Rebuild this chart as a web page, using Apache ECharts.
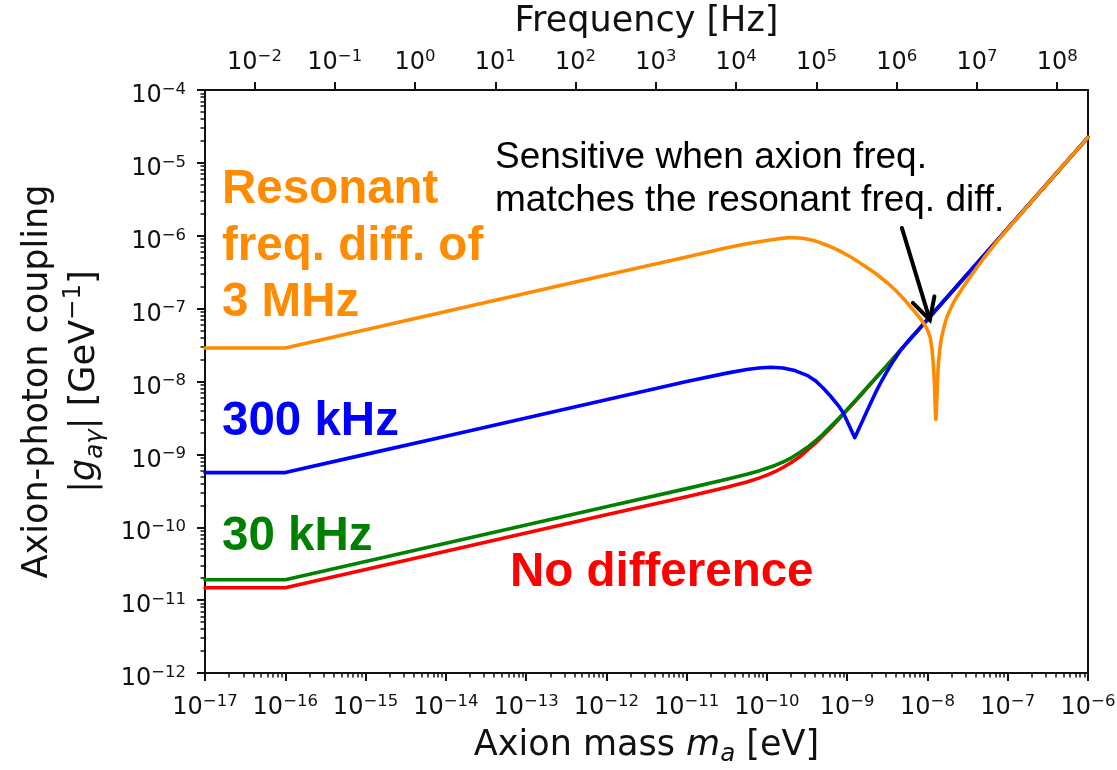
<!DOCTYPE html>
<html>
<head>
<meta charset="utf-8">
<script src="https://cdn.jsdelivr.net/npm/echarts@6/dist/echarts.min.js"></script>
<style>
  html, body { margin: 0; padding: 0; background: #ffffff; }
  #main { width: 1117px; height: 770px; }
</style>
</head>
<body>
<div id="main"></div>
<script>
// Planck constant in eV·s: frequency = mass / h for the top axis
const PLANCK_EV_S = 4.135667696e-15;

// Axis ranges and decade tick exponents
const massRange = [1e-17, 1e-6];
const couplingRange = [1e-12, 1e-4];
const massDecades = [-17, -16, -15, -14, -13, -12, -11, -10, -9, -8, -7, -6];
const couplingDecades = [-12, -11, -10, -9, -8, -7, -6, -5, -4];
const freqDecades = [-2, -1, 0, 1, 2, 3, 4, 5, 6, 7, 8];

// Sensitivity curves, stored as log10(mass / eV) and log10(|g| / GeV^-1)
const noDiffLogMass = [-17, -16, -15, -14, -13, -12, -11, -10.5, -10.25, -10.1, -10, -9.9, -9.8, -9.7, -9.6, -9.5, -9.4, -9.3, -9.2, -9.1, -9.0, -8.9, -8.8, -8.65, -8.5, -8, -7.5, -7, -6.5, -6];
const noDiffLogG    = [-10.83, -10.83, -10.58, -10.33, -10.08, -9.83, -9.58, -9.45, -9.38, -9.326, -9.285, -9.238, -9.18, -9.114, -9.04, -8.946, -8.85, -8.74, -8.63, -8.51, -8.39, -8.27, -8.15, -7.96, -7.775, -7.15, -6.525, -5.90, -5.275, -4.65];

const khz30LogMass = [-17, -16, -15, -14, -13, -12, -11, -10.5, -10.25, -10.1, -10, -9.9, -9.8, -9.7, -9.6, -9.5, -9.4, -9.3, -9.2, -9.1, -9.0, -8.9, -8.8, -8.65, -8.5, -8, -7.5, -7, -6.5, -6];
const khz30LogG    = [-10.72, -10.72, -10.47, -10.22, -9.97, -9.72, -9.47, -9.342, -9.273, -9.227, -9.19, -9.152, -9.105, -9.05, -8.98, -8.907, -8.82, -8.72, -8.61, -8.50, -8.385, -8.265, -8.14, -7.96, -7.775, -7.15, -6.525, -5.90, -5.275, -4.65];

const khz300LogMass = [-17, -16, -15, -14, -13, -12, -11, -10.5, -10.25, -10.1, -9.95, -9.8, -9.65, -9.5, -9.4, -9.3, -9.2, -9.1, -9.05, -9.0, -8.95, -8.905, -8.87, -8.83, -8.78, -8.72, -8.65, -8.57, -8.5, -8.42, -8.33, -8.24, -8.12, -8.0, -7.5, -7, -6.5, -6];
const khz300LogG    = [-9.25, -9.25, -9.00, -8.75, -8.50, -8.25, -8.00, -7.885, -7.835, -7.815, -7.805, -7.815, -7.85, -7.915, -7.985, -8.09, -8.21, -8.345, -8.43, -8.545, -8.665, -8.77, -8.685, -8.59, -8.47, -8.325, -8.16, -7.99, -7.855, -7.71, -7.565, -7.445, -7.30, -7.15, -6.525, -5.90, -5.275, -4.65];

const mhz3LogMass = [-17, -16, -15, -14, -13, -12, -11, -10.5, -10.25, -10.0, -9.85, -9.7, -9.55, -9.4, -9.25, -9.1, -8.95, -8.8, -8.65, -8.5, -8.4, -8.3, -8.2, -8.13, -8.07, -8.02, -7.99, -7.965, -7.945, -7.93, -7.922, -7.913, -7.907, -7.901, -7.895, -7.889, -7.883, -7.877, -7.868, -7.86, -7.845, -7.825, -7.80, -7.76, -7.70, -7.64, -7.55, -7.47, -7.39, -7.31, -7.15, -7.0, -6.5, -6];
const mhz3LogG    = [-7.54, -7.54, -7.29, -7.04, -6.79, -6.54, -6.29, -6.165, -6.11, -6.065, -6.04, -6.025, -6.035, -6.07, -6.13, -6.205, -6.295, -6.40, -6.515, -6.645, -6.745, -6.86, -6.99, -7.08, -7.165, -7.25, -7.32, -7.40, -7.545, -7.716, -7.84, -8.03, -8.23, -8.42, -8.52, -8.42, -8.23, -8.03, -7.84, -7.716, -7.545, -7.40, -7.28, -7.12, -6.97, -6.85, -6.695, -6.57, -6.447, -6.325, -6.10, -5.905, -5.275, -4.65];

// Arrow pointing at the resonance crossing: [mass, coupling] of tail and tip
const arrowTail = [4.8e-9, 1.28e-6];
const arrowTip = [1.07e-8, 7.0e-8];

const COLORS = { red: '#ff0000', green: '#008000', blue: '#0000ff', orange: '#ff8c00' };
const AXIS_FONT = 'DejaVu Sans';
const NOTE_FONT = 'Liberation Sans, Arial, sans-serif';

function pow10(e) { return Number('1e' + e); }
function toPairs(logX, logY) { return logX.map((lx, i) => [Math.pow(10, lx), Math.pow(10, logY[i])]); }
function minorValues(exps) {
  const out = [];
  for (let i = 0; i < exps.length - 1; i++) {
    for (let k = 2; k <= 9; k++) out.push(Number(k + 'e' + exps[i]));
  }
  return out;
}
function decadeLabel(v) {
  const e = Math.round(Math.log10(v));
  const txt = e < 0 ? '\u2212' + (-e) : String(e);
  return '{b|10}{s|' + txt + '}';
}

const tickRich = {
  b: { fontFamily: AXIS_FONT, fontSize: 24, lineHeight: 30, color: '#111' },
  s: { fontFamily: AXIS_FONT, fontSize: 16.5, lineHeight: 16, verticalAlign: 'top', color: '#111' }
};

const spine = { show: true, lineStyle: { color: '#111', width: 2 } };
const majorTick = (vals) => ({ show: true, inside: false, length: 8, customValues: vals, lineStyle: { color: '#111', width: 2 } });
const minorTick = (vals) => ({ show: true, inside: false, length: 4.5, customValues: vals, lineStyle: { color: '#111', width: 1.5 } });

const chart = echarts.init(document.getElementById('main'), null, { renderer: 'canvas' });

const option = {
  animation: false,
  backgroundColor: '#ffffff',
  grid: { left: 205, right: 29, top: 90, bottom: 97, containLabel: false, outerBoundsMode: 'none' },
  xAxis: [
    {
      type: 'log', logBase: 10, min: massRange[0], max: massRange[1], position: 'bottom',
      axisLine: spine,
      axisTick: majorTick(massDecades.map(pow10)),
      axisLabel: { customValues: massDecades.map(pow10), formatter: decadeLabel, rich: tickRich, margin: 20 },
      splitLine: { show: false },
      name: 'Axion mass {i|m}{sub|a} [eV]',
      nameLocation: 'middle', nameGap: 50,
      nameTextStyle: {
        fontFamily: AXIS_FONT, fontSize: 35, lineHeight: 42, color: '#111',
        rich: {
          i: { fontFamily: AXIS_FONT, fontStyle: 'italic', fontSize: 35, lineHeight: 42, color: '#111' },
          sub: { fontFamily: AXIS_FONT, fontStyle: 'italic', fontSize: 24.5, lineHeight: 21, verticalAlign: 'bottom', color: '#111' }
        }
      }
    },
    {
      type: 'log', logBase: 10, min: massRange[0], max: massRange[1], position: 'bottom',
      axisLine: { show: false },
      axisTick: minorTick(minorValues(massDecades)),
      axisLabel: { show: false },
      splitLine: { show: false }
    },
    {
      type: 'log', logBase: 10, min: massRange[0] / PLANCK_EV_S, max: massRange[1] / PLANCK_EV_S, position: 'top',
      axisLine: spine,
      axisTick: majorTick(freqDecades.map(pow10)),
      axisLabel: { customValues: freqDecades.map(pow10), formatter: decadeLabel, rich: tickRich, margin: 12 },
      splitLine: { show: false },
      name: 'Frequency [Hz]',
      nameLocation: 'middle', nameGap: 38,
      nameTextStyle: { fontFamily: AXIS_FONT, fontSize: 35, lineHeight: 42, color: '#111' }
    }
  ],
  yAxis: [
    {
      type: 'log', logBase: 10, min: couplingRange[0], max: couplingRange[1], position: 'left',
      axisLine: spine,
      axisTick: majorTick(couplingDecades.map(pow10)),
      axisLabel: { customValues: couplingDecades.map(pow10), formatter: decadeLabel, rich: tickRich, margin: 19, padding: [12, 0, 0, 0] },
      splitLine: { show: false }
    },
    {
      type: 'log', logBase: 10, min: couplingRange[0], max: couplingRange[1], position: 'left',
      axisLine: { show: false },
      axisTick: minorTick(minorValues(couplingDecades)),
      axisLabel: { show: false },
      splitLine: { show: false }
    },
    {
      type: 'log', logBase: 10, min: couplingRange[0], max: couplingRange[1], position: 'right',
      axisLine: spine,
      axisTick: { show: false },
      axisLabel: { show: false },
      splitLine: { show: false }
    }
  ],
  series: [
    { name: 'No difference', data: toPairs(noDiffLogMass, noDiffLogG), color: COLORS.red },
    { name: '30 kHz', data: toPairs(khz30LogMass, khz30LogG), color: COLORS.green },
    { name: '300 kHz', data: toPairs(khz300LogMass, khz300LogG), color: COLORS.blue },
    { name: 'Resonant freq. diff. of 3 MHz', data: toPairs(mhz3LogMass, mhz3LogG), color: COLORS.orange }
  ].map(s => ({
    type: 'line', name: s.name, data: s.data, xAxisIndex: 0, yAxisIndex: 0,
    showSymbol: false, symbol: 'none', silent: true, clip: true,
    lineStyle: { color: s.color, width: 3.6, join: 'round', cap: 'round' }
  }))
};

chart.setOption(option);

// Annotation texts and the arrow
const tail = chart.convertToPixel({ xAxisIndex: 0, yAxisIndex: 0 }, arrowTail);
const tip = chart.convertToPixel({ xAxisIndex: 0, yAxisIndex: 0 }, arrowTip);
const ang = Math.atan2(tail[1] - tip[1], tail[0] - tip[0]);
const wingLen = 24, wingAng = 28 * Math.PI / 180;
const wing1 = [tip[0] + wingLen * Math.cos(ang + wingAng), tip[1] + wingLen * Math.sin(ang + wingAng)];
const wing2 = [tip[0] + wingLen * Math.cos(ang - wingAng), tip[1] + wingLen * Math.sin(ang - wingAng)];

function note(text, x, y, color, size, weight, lineHeight) {
  return {
    type: 'text', x: x, y: y, silent: true, z: 100,
    style: {
      text: text, fill: color, fontFamily: NOTE_FONT, fontSize: size, fontWeight: weight,
      lineHeight: lineHeight || Math.round(size * 1.2), align: 'left', verticalAlign: 'middle'
    }
  };
}

chart.setOption({
  graphic: [
    {
      type: 'text', x: 61, y: 381.5, rotation: Math.PI / 2, silent: true,
      style: {
        text: 'Axion-photon coupling\n|{i|g}{sub|a\u03b3}| [GeV{sup|\u22121}]',
        fill: '#111', fontFamily: AXIS_FONT, fontSize: 35, lineHeight: 47,
        align: 'center', verticalAlign: 'middle',
        rich: {
          i: { fontFamily: AXIS_FONT, fontStyle: 'italic', fontSize: 35, lineHeight: 47, fill: '#111' },
          sub: { fontFamily: AXIS_FONT, fontStyle: 'italic', fontSize: 24.5, lineHeight: 26, verticalAlign: 'bottom', fill: '#111' },
          sup: { fontFamily: AXIS_FONT, fontSize: 24.5, lineHeight: 24, verticalAlign: 'top', fill: '#111' }
        }
      }
    },
    note('Resonant\nfreq. diff. of\n3 MHz', 222, 246.5, COLORS.orange, 47.5, 'bold', 56.5),
    note('300 kHz', 222, 422, COLORS.blue, 47.5, 'bold'),
    note('30 kHz', 222, 537, COLORS.green, 47.5, 'bold'),
    note('No difference', 510, 573, COLORS.red, 47.5, 'bold'),
    note('Sensitive when axion freq.\nmatches the resonant freq. diff.', 495, 179, '#000000', 37, 'normal', 43),
    {
      type: 'polyline', silent: true, z: 101,
      shape: { points: [tail, tip] },
      style: { stroke: '#000000', lineWidth: 4, lineCap: 'round', fill: null }
    },
    {
      type: 'polyline', silent: true, z: 101,
      shape: { points: [wing1, tip, wing2] },
      style: { stroke: '#000000', lineWidth: 4, lineCap: 'round', lineJoin: 'miter', fill: null }
    }
  ]
});
</script>
</body>
</html>
